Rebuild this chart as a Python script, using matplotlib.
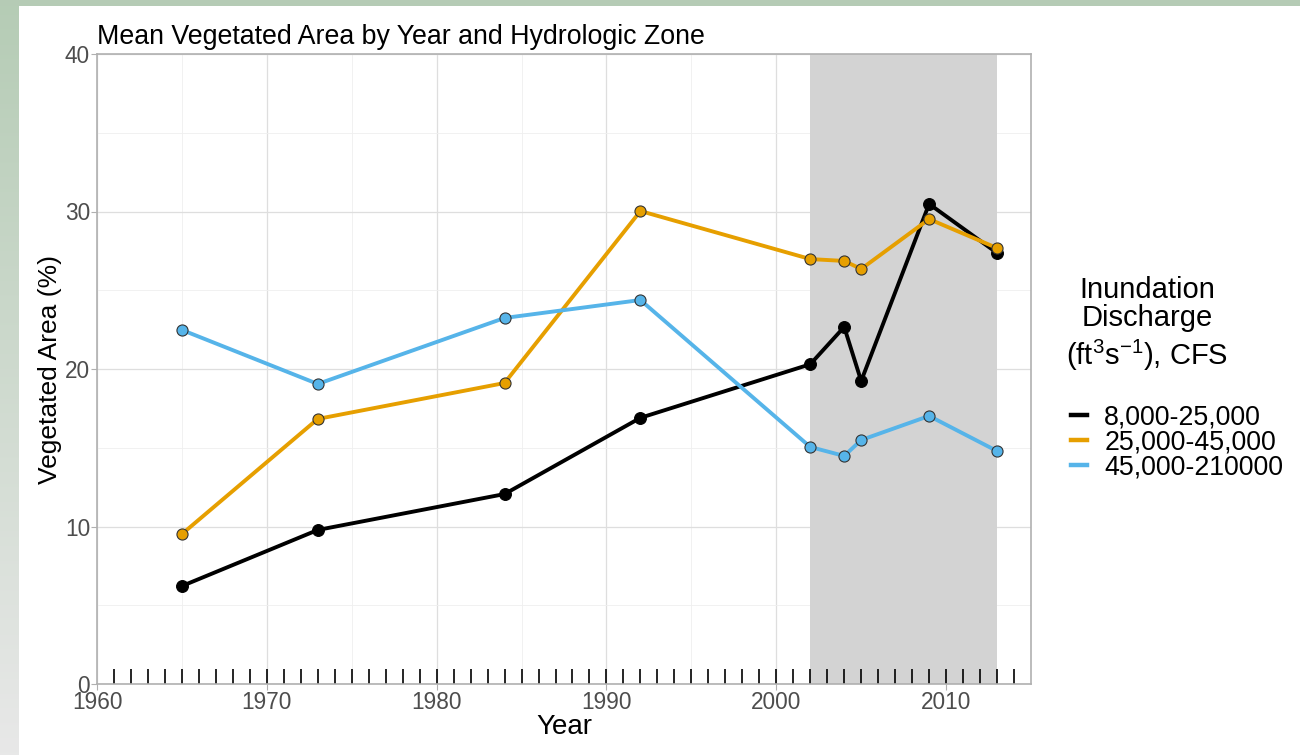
import numpy as np
import matplotlib.pyplot as plt
from matplotlib.patches import Rectangle
from matplotlib.lines import Line2D

plt.rcParams['font.family'] = ['Liberation Sans', 'DejaVu Sans']
plt.rcParams['mathtext.fontset'] = 'custom'
plt.rcParams['mathtext.rm'] = 'Liberation Sans'
plt.rcParams['mathtext.it'] = 'Liberation Sans'

years = [1965, 1973, 1984, 1992, 2002, 2004, 2005, 2009, 2013]
low = [6.22, 9.78, 12.06, 16.9, 20.3, 22.67, 19.24, 30.48, 27.37]
mid = [9.52, 16.83, 19.11, 30.03, 26.98, 26.86, 26.35, 29.52, 27.68]
high = [22.48, 19.05, 23.24, 24.38, 15.05, 14.48, 15.49, 17.02, 14.79]

labels = ["8,000-25,000", "25,000-45,000", "45,000-210000"]
colors = ["black", "#E69F00", "#56B4E9"]
legend_title = ["Inundation", "Discharge", "(ft$^3$s$^{-1}$), CFS"]

rug_years = np.arange(1961, 2015)
shade_start, shade_end = 2002, 2013

fig = plt.figure(figsize=(13, 7.55), dpi=100)

# slide-style background: green band at top, gradient strip on the left
bg = fig.add_axes([0, 0, 1, 1], zorder=-10)
bg.set_axis_off()
grad = np.linspace(0, 1, 256).reshape(-1, 1)
top_c = np.array([0.71, 0.80, 0.71])
bot_c = np.array([0.91, 0.91, 0.91])
img = top_c[None, None, :] * (1 - grad[:, :, None]) + bot_c[None, None, :] * grad[:, :, None]
bg.imshow(img, extent=[0, 19, 755, 0], aspect='auto')
bg.add_patch(Rectangle((0, 0), 1300, 6, color="#b5cbb5", lw=0))
bg.set_xlim(0, 1300)
bg.set_ylim(755, 0)

ax = fig.add_axes([97 / 1300, 1 - 684 / 755, (1031 - 97) / 1300, (684 - 54) / 755])
ax.set_xlim(1960, 2015)
ax.set_ylim(0, 40)

ax.set_xticks([1960, 1970, 1980, 1990, 2000, 2010])
ax.set_xticks(np.arange(1965, 2015, 10), minor=True)
ax.set_yticks([0, 10, 20, 30, 40])
ax.set_yticks([5, 15, 25, 35], minor=True)
ax.grid(which='major', color="#dedede", lw=0.9)
ax.grid(which='minor', color="#efefef", lw=0.6)
ax.set_axisbelow(True)
for s in ax.spines.values():
    s.set_color("#b0b0b0")
    s.set_linewidth(1.2)
ax.tick_params(which='major', length=4, color="#b0b0b0", labelsize=16.3, labelcolor="#4d4d4d", pad=1)
ax.tick_params(which='minor', length=0)

ax.axvspan(shade_start, shade_end, color="#d3d3d3", lw=0, zorder=1)

ax.vlines(rug_years, 0, 0.024, transform=ax.get_xaxis_transform(), color="black", lw=1.2, zorder=2)

for vals, lab, c in zip([low, mid, high], labels, colors):
    ec = "black" if c == "black" else "#333333"
    ax.plot(years, vals, color=c, lw=2.8, zorder=3, label=lab)
    ax.plot(years, vals, 'o', color=c, markersize=8.5 if c == "black" else 8,
            markeredgecolor=ec, markeredgewidth=0.8, zorder=4)

ax.set_xlabel("Year", fontsize=20, labelpad=0)
ax.set_ylabel("Vegetated Area (%)", fontsize=19, labelpad=2)
ax.set_title("Mean Vegetated Area by Year and Hydrologic Zone", fontsize=19.3, loc='left', pad=7)

# legend title, one line at a time
for txt, ypix in zip(legend_title, [290, 318, 355]):
    fig.text(1147 / 1300, 1 - ypix / 755, txt, ha='center', va='center', fontsize=21)

handles = [Line2D([], [], color=c, lw=3.2) for c in colors]
fig.legend(handles, labels, loc='upper left', bbox_to_anchor=(1052 / 1300, 1 - 386 / 755),
           frameon=False, fontsize=19.3, handlelength=0.6, handletextpad=0.65,
           labelspacing=-0.05, borderpad=0.2)

fig.savefig("out.png", dpi=100)
